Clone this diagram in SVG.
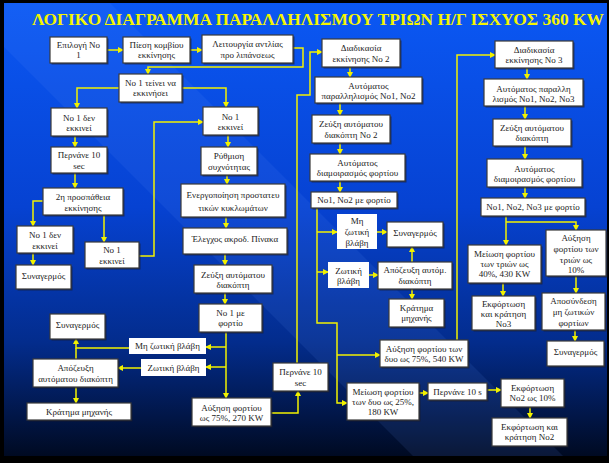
<svg xmlns="http://www.w3.org/2000/svg" width="609" height="463" viewBox="0 0 609 463">
<defs>
<linearGradient id="bg" x1="0" y1="0" x2="0" y2="1">
<stop offset="0" stop-color="#0b58f4"/>
<stop offset="0.45" stop-color="#0642d2"/>
<stop offset="0.75" stop-color="#032c8c"/>
<stop offset="1" stop-color="#000a22"/>
</linearGradient>
<marker id="ar" markerUnits="userSpaceOnUse" markerWidth="6" markerHeight="6" refX="5" refY="3" orient="auto">
<path d="M0,0 L6,3 L0,6 z" fill="#f2f200"/>
</marker>
<style>
.box{fill:#fff;stroke:#3a3a3a;stroke-width:1.2}
.sh{fill:#1a1a2a;opacity:0.6}
.lbl{fill:#fff;stroke:none}
.t{font-family:"Liberation Serif","Times New Roman",serif;font-size:9px;fill:#222;text-anchor:middle;dominant-baseline:central}
.c{fill:none;stroke:#f2f200;stroke-width:1.5}
.a{marker-end:url(#ar)}
</style>
</defs>
<rect x="0" y="0" width="609" height="463" fill="#000"/>
<rect x="4" y="3" width="603" height="453" fill="url(#bg)"/>
<polygon points="4,3 110,3 563,456 413,456 4,47" fill="#6fa0ff" opacity="0.1"/>
<text x="32" y="25" font-family="'Liberation Serif','Times New Roman',serif" font-size="17" font-weight="bold" fill="#f5f500" textLength="572" lengthAdjust="spacingAndGlyphs">ΛΟΓΙΚΟ ΔΙΑΓΡΑΜΜΑ ΠΑΡΑΛΛΗΛΙΣΜΟΥ ΤΡΙΩΝ Η/Γ ΙΣΧΥΟΣ 360 KW</text>

<g id="connectors">
<polyline class="c a" points="107,50 123,50"/>
<polyline class="c a" points="190,50 202,50"/>
<polyline class="c a" points="293,48 303,48 303,67 148,67 148,74"/>
<polyline class="c a" points="119,88 77,88 77,108"/>
<polyline class="c a" points="182,88 226,88 226,107"/>
<polyline class="c a" points="75,136 75,147"/>
<polyline class="c a" points="75,173 75,188"/>
<polyline class="c a" points="43,201 33,201 33,226"/>
<polyline class="c a" points="104,215 104,242"/>
<polyline class="c a" points="33,253 33,265"/>
<polyline class="c a" points="139,256 154,256 154,122 203,122"/>
<polyline class="c a" points="228,135 228,147"/>
<polyline class="c a" points="227,175 227,184"/>
<polyline class="c a" points="226,217 226,228"/>
<polyline class="c a" points="225,254 225,265"/>
<polyline class="c a" points="225,293 225,304"/>
<polyline class="c a" points="226,332 226,398"/>
<polyline class="c a" points="226,347 206,347"/>
<polyline class="c a" points="226,367 206,367"/>
<polyline class="c a" points="129,348 76,348 76,339"/>
<polyline class="c" points="76,359 76,348"/>
<polyline class="c a" points="141,368 118,368"/>
<polyline class="c a" points="76,387 76,403"/>
<polyline class="c a" points="271,413 298,413 298,391"/>
<polyline class="c a" points="297,363 297,95 310,95 310,52 322,52"/>
<polyline class="c a" points="350,67 350,77"/>
<polyline class="c a" points="340,103 340,115"/>
<polyline class="c a" points="340,143 340,154"/>
<polyline class="c a" points="340,181 340,192"/>
<polyline class="c a" points="317,208 317,323 337,323 337,403 347,403"/>
<polyline class="c a" points="317,232 337,232"/>
<polyline class="c a" points="377,232 387,232"/>
<polyline class="c a" points="317,272 328,272"/>
<polyline class="c a" points="369,275 378,275"/>
<polyline class="c a" points="412,262 412,247"/>
<polyline class="c a" points="412,289 412,299"/>
<polyline class="c a" points="337,355 380,355"/>
<polyline class="c a" points="457,340 457,55 495,55"/>
<polyline class="c a" points="419,393 428,393"/>
<polyline class="c a" points="487,390 501,390"/>
<polyline class="c a" points="530,407 530,418"/>
<polyline class="c a" points="527,68 527,79"/>
<polyline class="c a" points="525,106 525,119"/>
<polyline class="c a" points="525,146 525,159"/>
<polyline class="c a" points="525,187 525,198"/>
<polyline class="c a" points="506,216 506,245"/>
<polyline class="c a" points="506,222 576,222 576,230"/>
<polyline class="c a" points="503,283 503,296"/>
<polyline class="c a" points="576,276 576,293"/>
<polyline class="c a" points="575,330 575,341"/>
</g>

<g id="n_epilogi"><rect class="sh" x="51.5" y="38.5" width="57" height="26"/><rect class="box" x="50" y="37" width="57" height="26"/><text class="t"><tspan x="78.5" y="45">Επιλογή Νο</tspan><tspan x="78.5" y="55">1</tspan></text></g>
<g id="n_piesi"><rect class="sh" x="124.5" y="38.5" width="67" height="26"/><rect class="box" x="123" y="37" width="67" height="26"/><text class="t"><tspan x="156.5" y="45">Πίεση κομβίου</tspan><tspan x="156.5" y="55">εκκίνησης</tspan></text></g>
<g id="n_leitourgia"><rect class="sh" x="203.5" y="36.5" width="91" height="28"/><rect class="box" x="202" y="35" width="91" height="28"/><text class="t"><tspan x="247.5" y="44">Λειτουργία αντλίας</tspan><tspan x="247.5" y="55">προ λιπάνσεως</tspan></text></g>
<g id="n_teinei"><rect class="sh" x="120.5" y="75.5" width="63" height="28"/><rect class="box" x="119" y="74" width="63" height="28"/><text class="t"><tspan x="150.5" y="83">Νο 1 τείνει να</tspan><tspan x="150.5" y="93">εκκινήσει</tspan></text></g>
<g id="n_den1"><rect class="sh" x="52.5" y="109.5" width="56" height="28"/><rect class="box" x="51" y="108" width="56" height="28"/><text class="t"><tspan x="79" y="118">Νο 1 δεν</tspan><tspan x="79" y="128">εκκινεί</tspan></text></g>
<g id="n_pernane1"><rect class="sh" x="52.5" y="148.5" width="56" height="26"/><rect class="box" x="51" y="147" width="56" height="26"/><text class="t"><tspan x="79" y="155">Περνάνε 10</tspan><tspan x="79" y="166">sec</tspan></text></g>
<g id="n_2i"><rect class="sh" x="44.5" y="189.5" width="80" height="27"/><rect class="box" x="43" y="188" width="80" height="27"/><text class="t"><tspan x="83" y="197">2η προσπάθεια</tspan><tspan x="83" y="208">εκκίνησης</tspan></text></g>
<g id="n_den2"><rect class="sh" x="18.5" y="227.5" width="56" height="27"/><rect class="box" x="17" y="226" width="56" height="27"/><text class="t"><tspan x="45" y="235">Νο 1 δεν</tspan><tspan x="45" y="246">εκκινεί</tspan></text></g>
<g id="n_ekkinei_left"><rect class="sh" x="86.5" y="243.5" width="54" height="26"/><rect class="box" x="85" y="242" width="54" height="26"/><text class="t"><tspan x="112" y="250">Νο 1</tspan><tspan x="112" y="261">εκκινεί</tspan></text></g>
<g id="n_synag1"><rect class="sh" x="17.5" y="266.5" width="55" height="24"/><rect class="box" x="16" y="265" width="55" height="24"/><text class="t" x="43.5" y="276">Συναγερμός</text></g>

<g id="n_ekkinei"><rect class="sh" x="204.5" y="108.5" width="55" height="28"/><rect class="box" x="203" y="107" width="55" height="28"/><text class="t"><tspan x="230.5" y="117">Νο 1</tspan><tspan x="230.5" y="127">εκκινεί</tspan></text></g>
<g id="n_rythmisi"><rect class="sh" x="202.5" y="148.5" width="56" height="28"/><rect class="box" x="201" y="147" width="56" height="28"/><text class="t"><tspan x="229" y="156">Ρύθμιση</tspan><tspan x="229" y="167">συχνότητας</tspan></text></g>
<g id="n_energ"><rect class="sh" x="182.5" y="185.5" width="104" height="33"/><rect class="box" x="181" y="184" width="104" height="33"/><text class="t"><tspan x="233" y="195">Ενεργοποίηση προστατευ</tspan><tspan x="233" y="208">τικών κυκλωμάτων</tspan></text></g>
<g id="n_elegxos"><rect class="sh" x="184.5" y="229.5" width="104" height="26"/><rect class="box" x="183" y="228" width="104" height="26"/><text class="t" x="235" y="239">Έλεγχος ακροδ. Πίνακα</text></g>
<g id="n_zeuxi1"><rect class="sh" x="195.5" y="266.5" width="78" height="28"/><rect class="box" x="194" y="265" width="78" height="28"/><text class="t"><tspan x="233" y="275">Ζεύξη αυτόματου</tspan><tspan x="233" y="285">διακόπτη</tspan></text></g>
<g id="n_fortio1"><rect class="sh" x="200.5" y="305.5" width="63" height="28"/><rect class="box" x="199" y="304" width="63" height="28"/><text class="t"><tspan x="230.5" y="313">Νο 1 με</tspan><tspan x="230.5" y="323">φορτίο</tspan></text></g>
<g id="lbl_mz1"><rect class="lbl" x="129" y="338" width="77" height="16"/><text class="t" x="167.5" y="346">Μη ζωτική βλάβη</text></g>
<g id="lbl_z1"><rect class="lbl" x="141" y="359" width="65" height="17"/><text class="t" x="173.5" y="367.5">Ζωτική βλάβη</text></g>
<g id="n_synag2"><rect class="sh" x="51.5" y="315.5" width="55" height="25"/><rect class="box" x="50" y="314" width="55" height="25"/><text class="t" x="77.5" y="325">Συναγερμός</text></g>
<g id="n_apozeuxi1"><rect class="sh" x="34.5" y="360.5" width="85" height="28"/><rect class="box" x="33" y="359" width="85" height="28"/><text class="t"><tspan x="75.5" y="368">Απόζευξη</tspan><tspan x="75.5" y="379">αυτόματου διακόπτη</tspan></text></g>
<g id="n_kratima1"><rect class="sh" x="28.5" y="404.5" width="104" height="17"/><rect class="box" x="27" y="403" width="104" height="17"/><text class="t" x="79" y="412">Κράτημα μηχανής</text></g>
<g id="n_auxisi75"><rect class="sh" x="193.5" y="399.5" width="79" height="28"/><rect class="box" x="192" y="398" width="79" height="28"/><text class="t"><tspan x="231.5" y="408">Αύξηση φορτίου</tspan><tspan x="231.5" y="418">ως 75%, 270 KW</tspan></text></g>
<g id="n_pernane2"><rect class="sh" x="274.5" y="364.5" width="55" height="28"/><rect class="box" x="273" y="363" width="55" height="28"/><text class="t"><tspan x="300.5" y="372">Περνάνε 10</tspan><tspan x="300.5" y="383">sec</tspan></text></g>

<g id="n_diad2"><rect class="sh" x="323.5" y="40.5" width="78" height="28"/><rect class="box" x="322" y="39" width="78" height="28"/><text class="t"><tspan x="361" y="48">Διαδικασία</tspan><tspan x="361" y="59">εκκίνησης Νο 2</tspan></text></g>
<g id="n_par2"><rect class="sh" x="316.5" y="78.5" width="107" height="26"/><rect class="box" x="315" y="77" width="107" height="26"/><text class="t"><tspan x="368.5" y="86">Αυτόματος</tspan><tspan x="368.5" y="96">παραλληλισμός Νο1, Νο2</tspan></text></g>
<g id="n_zeuxi2"><rect class="sh" x="313.5" y="116.5" width="78" height="28"/><rect class="box" x="312" y="115" width="78" height="28"/><text class="t"><tspan x="351" y="124">Ζεύξη αυτόματου</tspan><tspan x="351" y="135">διακόπτη Νο 2</tspan></text></g>
<g id="n_diam2"><rect class="sh" x="311.5" y="155.5" width="95" height="27"/><rect class="box" x="310" y="154" width="95" height="27"/><text class="t"><tspan x="357.5" y="163">Αυτόματος</tspan><tspan x="357.5" y="173">διαμοιρασμός φορτίου</tspan></text></g>
<g id="n_fortio2"><rect class="sh" x="312.5" y="193.5" width="86" height="16"/><rect class="box" x="311" y="192" width="86" height="16"/><text class="t" x="354" y="200">Νο1, Νο2 με φορτίο</text></g>
<g id="lbl_mz2"><rect class="lbl" x="337" y="214" width="40" height="35"/><text class="t"><tspan x="357" y="221">Μη</tspan><tspan x="357" y="232">ζωτική</tspan><tspan x="357" y="243">βλάβη</tspan></text></g>
<g id="n_synag3"><rect class="sh" x="388.5" y="223.5" width="56" height="25"/><rect class="box" x="387" y="222" width="56" height="25"/><text class="t" x="415" y="233">Συναγερμός</text></g>
<g id="lbl_z2"><rect class="lbl" x="328" y="262" width="41" height="26"/><text class="t"><tspan x="348.5" y="271">Ζωτική</tspan><tspan x="348.5" y="281">βλάβη</tspan></text></g>
<g id="n_apozeuxi2"><rect class="sh" x="379.5" y="263.5" width="74" height="27"/><rect class="box" x="378" y="262" width="74" height="27"/><text class="t"><tspan x="415" y="270">Απόζευξη αυτόμ.</tspan><tspan x="415" y="281">διακόπτη</tspan></text></g>
<g id="n_kratima2"><rect class="sh" x="390.5" y="300.5" width="55" height="28"/><rect class="box" x="389" y="299" width="55" height="28"/><text class="t"><tspan x="416.5" y="308">Κράτημα</tspan><tspan x="416.5" y="318">μηχανής</tspan></text></g>
<g id="n_auxisi540"><rect class="sh" x="381.5" y="341.5" width="88" height="27"/><rect class="box" x="380" y="340" width="88" height="27"/><text class="t"><tspan x="424" y="349">Αύξηση φορτίου των</tspan><tspan x="424" y="359">δυο ως 75%, 540 KW</tspan></text></g>
<g id="n_meiosi180"><rect class="sh" x="348.5" y="384.5" width="72" height="37"/><rect class="box" x="347" y="383" width="72" height="37"/><text class="t"><tspan x="383" y="392">Μείωση φορτίου</tspan><tspan x="383" y="402">των δυο ως 25%,</tspan><tspan x="383" y="412">180 KW</tspan></text></g>
<g id="n_pernane3"><rect class="sh" x="429.5" y="384.5" width="59" height="17"/><rect class="box" x="428" y="383" width="59" height="17"/><text class="t" x="457.5" y="391.5">Περνάνε 10 s</text></g>
<g id="n_ekf2"><rect class="sh" x="502.5" y="380.5" width="63" height="28"/><rect class="box" x="501" y="379" width="63" height="28"/><text class="t"><tspan x="532.5" y="388">Εκφόρτωση</tspan><tspan x="532.5" y="398">Νο2 ως 10%</tspan></text></g>
<g id="n_ekf2k"><rect class="sh" x="493.5" y="419.5" width="75" height="28"/><rect class="box" x="492" y="418" width="75" height="28"/><text class="t"><tspan x="529.5" y="427">Εκφόρτωση και</tspan><tspan x="529.5" y="437">κράτηση Νο2</tspan></text></g>

<g id="n_diad3"><rect class="sh" x="496.5" y="42.5" width="78" height="27"/><rect class="box" x="495" y="41" width="78" height="27"/><text class="t"><tspan x="534" y="50">Διαδικασία</tspan><tspan x="534" y="60">εκκίνησης Νο 3</tspan></text></g>
<g id="n_par3"><rect class="sh" x="485.5" y="80.5" width="99" height="27"/><rect class="box" x="484" y="79" width="99" height="27"/><text class="t"><tspan x="533.5" y="89">Αυτόματος παραλλη</tspan><tspan x="533.5" y="99">λισμός Νο1, Νο2, Νο3</tspan></text></g>
<g id="n_zeuxi3"><rect class="sh" x="494.5" y="120.5" width="78" height="27"/><rect class="box" x="493" y="119" width="78" height="27"/><text class="t"><tspan x="532" y="128">Ζεύξη αυτόματου</tspan><tspan x="532" y="138">διακόπτη</tspan></text></g>
<g id="n_diam3"><rect class="sh" x="488.5" y="160.5" width="95" height="28"/><rect class="box" x="487" y="159" width="95" height="28"/><text class="t"><tspan x="534.5" y="169">Αυτόματος</tspan><tspan x="534.5" y="179">διαμοιρασμός φορτίου</tspan></text></g>
<g id="n_fortio3"><rect class="sh" x="482.5" y="199.5" width="104" height="18"/><rect class="box" x="481" y="198" width="104" height="18"/><text class="t" x="533" y="207">Νο1, Νο2, Νο3 με φορτίο</text></g>
<g id="n_meiosi430"><rect class="sh" x="469.5" y="246.5" width="73" height="38"/><rect class="box" x="468" y="245" width="73" height="38"/><text class="t"><tspan x="504.5" y="254">Μείωση φορτίου</tspan><tspan x="504.5" y="264">των τριών ως</tspan><tspan x="504.5" y="274">40%, 430 KW</tspan></text></g>
<g id="n_auxisi10"><rect class="sh" x="547.5" y="231.5" width="60" height="46"/><rect class="box" x="546" y="230" width="60" height="46"/><text class="t"><tspan x="576" y="238">Αύξηση</tspan><tspan x="576" y="249">φορτίου των</tspan><tspan x="576" y="260">τριών ως</tspan><tspan x="576" y="270">10%</tspan></text></g>
<g id="n_ekf3"><rect class="sh" x="473.5" y="297.5" width="63" height="34"/><rect class="box" x="472" y="296" width="63" height="34"/><text class="t"><tspan x="503.5" y="304">Εκφόρτωση</tspan><tspan x="503.5" y="314">και κράτηση</tspan><tspan x="503.5" y="324">Νο3</tspan></text></g>
<g id="n_aposyndesi"><rect class="sh" x="543.5" y="294.5" width="63" height="37"/><rect class="box" x="542" y="293" width="63" height="37"/><text class="t"><tspan x="573.5" y="301">Αποσύνδεση</tspan><tspan x="573.5" y="312">μη ζωτικών</tspan><tspan x="573.5" y="323">φορτίων</tspan></text></g>
<g id="n_synag4"><rect class="sh" x="548.5" y="342.5" width="57" height="25"/><rect class="box" x="547" y="341" width="57" height="25"/><text class="t" x="575.5" y="352">Συναγερμός</text></g>
</svg>
